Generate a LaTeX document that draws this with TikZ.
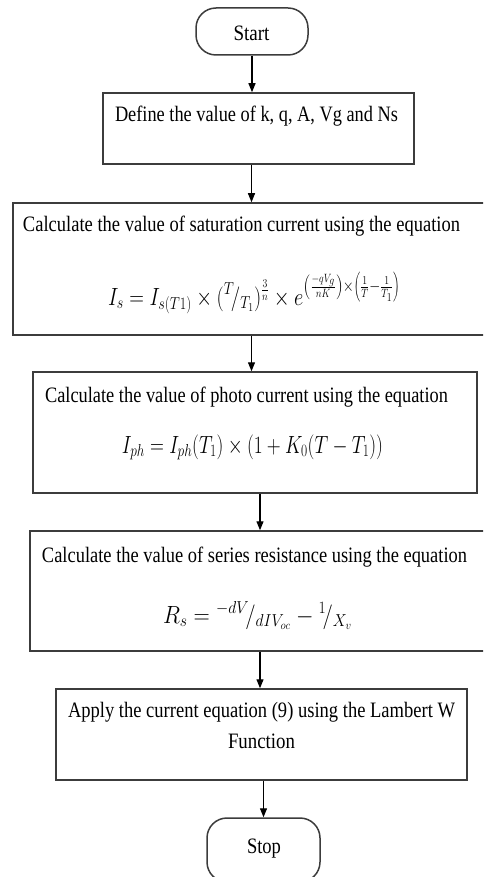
\documentclass[tikz,border=0pt]{standalone}
\usepackage{fontspec}
\setmainfont{Liberation Serif}
\usepackage{graphicx}
\usetikzlibrary{arrows.meta}
\definecolor{boxgray}{HTML}{3C3C3C}
\newcommand{\fw}[2]{\resizebox{#1}{\height}{\fontsize{22}{26}\selectfont #2}}
\newcommand{\fm}[2]{\resizebox{#1}{\height}{\fontsize{26}{30}\selectfont #2}}
\begin{document}
\begin{tikzpicture}[x=1pt,y=-1pt,
  box/.style={draw=boxgray,line width=1.5pt,inner sep=0,rectangle},
  pill/.style={box,rounded corners=20pt},
  txt/.style={inner sep=0,anchor=base,text=black},
  arr/.style={line width=1.2pt,-{Triangle[length=9pt,width=7pt]}}]
\useasboundingbox (0,0) rectangle (483,877);
\clip (0,0) rectangle (483,877);
\fill[white] (0,0) rectangle (483,877);
% shapes
\node[pill,minimum width=112pt,minimum height=47pt] (start) at (252,31.5) {};
\node[box,minimum width=311pt,minimum height=71pt] (define) at (258.5,128.5) {};
\node[box,minimum width=477pt,minimum height=132pt] (sat) at (251.5,269) {};
\node[box,minimum width=444pt,minimum height=121pt] (photo) at (255,432.5) {};
\node[box,minimum width=460pt,minimum height=120pt] (series) at (260,591) {};
\node[box,minimum width=411pt,minimum height=91pt] (apply) at (261.5,734.5) {};
\node[pill,minimum width=113pt,minimum height=64pt] (stop) at (263.5,850) {};
% texts
\node[txt] (tstart) at (251.5,41) {\fw{36pt}{Start}};
\node[txt] (tdefine) at (256.5,122) {\fw{283pt}{Define the value of k, q, A, Vg and Ns}};
\node[txt] (tsat) at (241.5,232) {\fw{437pt}{Calculate the value of saturation current using the equation}};
\node[txt] (esat) at (254,305) {\fm{292pt}{$\displaystyle I_s = I_{s(T1)} \times ({}^{T}\!/_{T_1})^{\frac{3}{n}} \times e^{\left(\frac{-qV_g}{nK}\right)\times\left(\frac{1}{T}-\frac{1}{T_1}\right)}$}};
\node[txt] (tphoto) at (246.5,402) {\fw{403pt}{Calculate the value of photo current using the equation}};
\node[txt] (ephoto) at (252.5,453) {\fm{261pt}{$I_{ph} = I_{ph}(T_1) \times (1 + K_0(T - T_1))$}};
\node[txt] (tseries) at (254.5,562) {\fw{425pt}{Calculate the value of series resistance using the equation}};
\node[txt] (eseries) at (257.5,623) {\fm{189pt}{$R_s = {}^{-dV}\!/_{dIV_{oc}} - {}^{1}\!/_{X_v}$}};
\node[txt] (tapply1) at (261.5,717) {\fw{387pt}{Apply the current equation (9) using the Lambert W}};
\node[txt] (tapply2) at (261.5,748) {\fw{67pt}{Function}};
\node[txt] (tstop) at (264,853) {\fw{34pt}{Stop}};
% connectors
\draw[arr] (start.south) -- (start.south |- define.north);
\draw[arr] (sat.north |- define.south) -- (sat.north);
\draw[arr] (sat.south) -- (sat.south |- photo.north);
\draw[arr] (series.north |- photo.south) -- (series.north);
\draw[arr] (series.south) -- (series.south |- apply.north);
\draw[arr] (stop.north |- apply.south) -- (stop.north);
\end{tikzpicture}
\end{document}
